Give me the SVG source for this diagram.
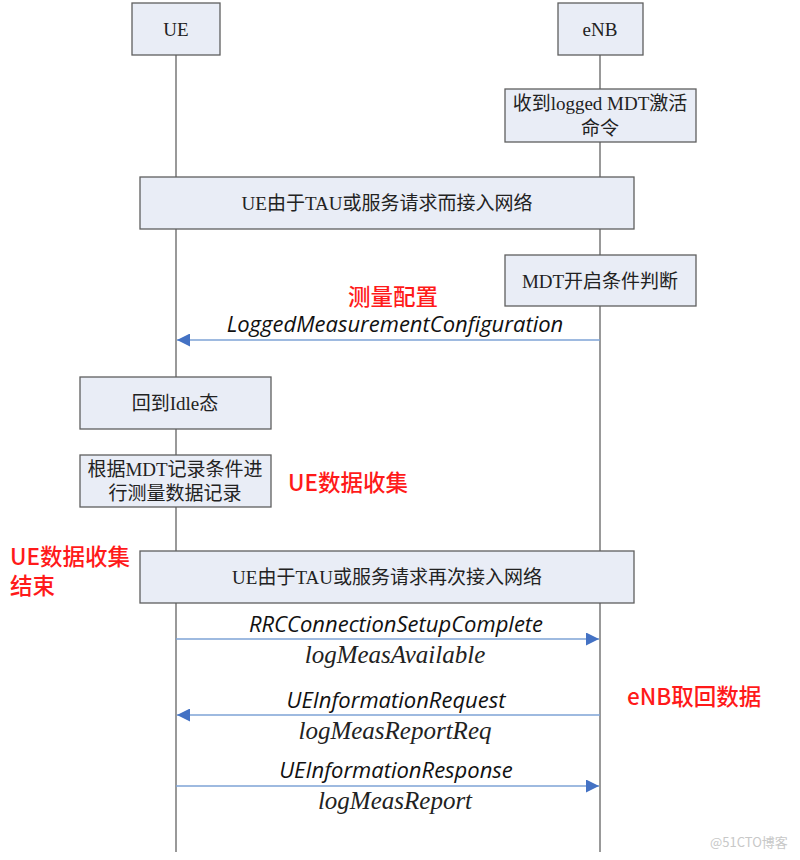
<svg xmlns="http://www.w3.org/2000/svg" width="800" height="860" viewBox="0 0 800 860">
<style>
.box{fill:#e9edf6;stroke:#5f5f5f;stroke-width:1.3}
.bt{font-family:"Liberation Serif","Noto Sans CJK SC",serif;font-size:19px;fill:#222;text-anchor:middle}
.life{stroke:#555;stroke-width:1.2}
.msg{stroke:#7ea3d6;stroke-width:1.5;fill:none}
.lab{font-family:"Open Sans","Liberation Sans",sans-serif;font-style:italic;font-size:22px;fill:#111;text-anchor:middle}
.sub{font-family:"Liberation Serif",serif;font-style:italic;font-size:25px;fill:#222;text-anchor:middle}
.red{font-family:"Noto Sans CJK SC",sans-serif;font-size:22.5px;fill:#ff1a1a;font-weight:500}
</style>
<defs>
<marker id="ah" viewBox="0 0 10 10" refX="10" refY="5" markerWidth="17" markerHeight="13" markerUnits="userSpaceOnUse" orient="auto">
<path d="M0,0 L10,5 L0,10 z" fill="#4472c4"/>
</marker>
</defs>
<rect width="800" height="860" fill="#fff"/>
<g id="lifelines">
<line class="life" x1="176" y1="55" x2="176" y2="852"/>
<line class="life" x1="600" y1="55" x2="600" y2="852"/>
</g>
<g id="UE"><rect class="box" x="132" y="3" width="88" height="52"/><text class="bt" x="176" y="36">UE</text></g>
<g id="eNB"><rect class="box" x="558" y="3" width="85" height="52"/><text class="bt" x="600" y="36">eNB</text></g>
<g id="n1"><rect class="box" x="505" y="89" width="191" height="53"/><text class="bt" x="600" y="110">收到logged MDT激活</text><text class="bt" x="600" y="135">命令</text></g>
<g id="n2"><rect class="box" x="140" y="177" width="494" height="52"/><text class="bt" x="387" y="210">UE由于TAU或服务请求而接入网络</text></g>
<g id="n3"><rect class="box" x="505" y="255" width="191" height="51"/><text class="bt" x="600" y="288">MDT开启条件判断</text></g>
<g id="n4"><rect class="box" x="80" y="377" width="191" height="52"/><text class="bt" x="175" y="410">回到Idle态</text></g>
<g id="n5"><rect class="box" x="80" y="455" width="191" height="52"/><text class="bt" x="175" y="476">根据MDT记录条件进</text><text class="bt" x="175" y="500">行测量数据记录</text></g>
<g id="n6"><rect class="box" x="140" y="551" width="494" height="52"/><text class="bt" x="387" y="584">UE由于TAU或服务请求再次接入网络</text></g>
<g id="connectors">
<line class="msg" x1="600" y1="340" x2="177" y2="340" marker-end="url(#ah)"/>
<line class="msg" x1="176" y1="639" x2="599" y2="639" marker-end="url(#ah)"/>
<line class="msg" x1="600" y1="715" x2="177" y2="715" marker-end="url(#ah)"/>
<line class="msg" x1="176" y1="786" x2="599" y2="786" marker-end="url(#ah)"/>
</g>
<g id="labels">
<text class="red" x="393" y="305" text-anchor="middle">测量配置</text>
<text class="lab" x="395" y="332">LoggedMeasurementConfiguration</text>
<text class="red" x="288" y="491">UE数据收集</text>
<text class="red" x="10" y="565">UE数据收集</text>
<text class="red" x="10" y="594">结束</text>
<text class="lab" x="396" y="632">RRCConnectionSetupComplete</text>
<text class="sub" x="395" y="663">logMeasAvailable</text>
<text class="lab" x="396" y="708">UEInformationRequest</text>
<text class="sub" x="395" y="739">logMeasReportReq</text>
<text class="red" x="627" y="705">eNB取回数据</text>
<text class="lab" x="396" y="778">UEInformationResponse</text>
<text class="sub" x="395" y="809">logMeasReport</text>
<text x="710" y="847" font-family="Noto Sans CJK SC,sans-serif" font-size="13" fill="#c8c8c8">@51CTO博客</text>
</g>
</svg>
